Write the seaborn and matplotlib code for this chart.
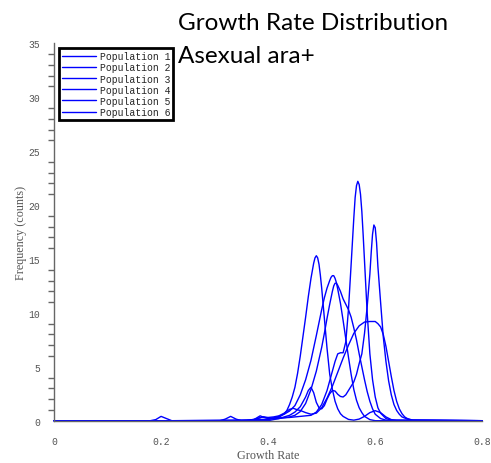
import matplotlib
matplotlib.use("Agg")
import matplotlib.pyplot as plt
import seaborn as sns
import pandas as pd
from matplotlib.ticker import MultipleLocator

# ---- data ----
populations = ["Population 1", "Population 2", "Population 3",
               "Population 4", "Population 5", "Population 6"]

pop1_x = [0, 0.36, 0.38, 0.39, 0.40, 0.41, 0.42, 0.43, 0.435, 0.44, 0.445, 0.45, 0.455, 0.46,
          0.465, 0.47, 0.475, 0.48, 0.485, 0.4875, 0.49, 0.4925, 0.495, 0.4975, 0.50, 0.505,
          0.51, 0.515, 0.52, 0.525, 0.53, 0.535, 0.54, 0.55, 0.56, 0.57, 0.58, 0.59, 0.60,
          0.61, 0.62, 0.63, 0.64, 0.8]
pop1_y = [0, 0, 0.2, 0.35, 0.25, 0.25, 0.3, 0.65, 0.95, 1.5, 2.2, 3.1, 4.4, 6.0,
          7.8, 9.6, 11.5, 13.2, 14.6, 15.1, 15.3, 15.1, 14.5, 13.5, 12.3, 9.5,
          6.7, 4.3, 2.9, 1.8, 1.1, 0.65, 0.4, 0.12, 0.05, 0.15, 0.4, 0.75, 0.93,
          0.75, 0.35, 0.1, 0.02, 0]

pop2_x = [0, 0.18, 0.19, 0.20, 0.21, 0.22, 0.40, 0.42, 0.43, 0.44, 0.45, 0.46, 0.47, 0.48,
          0.49, 0.50, 0.505, 0.51, 0.515, 0.5175, 0.52, 0.5225, 0.525, 0.5275, 0.53, 0.535,
          0.54, 0.545, 0.55, 0.555, 0.56, 0.565, 0.57, 0.575, 0.58, 0.59, 0.60, 0.8]
pop2_y = [0, 0, 0.1, 0.4, 0.2, 0, 0.1, 0.4, 0.6, 0.9, 1.4, 2.4, 3.8, 5.6,
          7.9, 10.3, 11.4, 12.3, 13.0, 13.3, 13.45, 13.45, 13.2, 12.8, 12.2, 10.9,
          9.3, 7.6, 5.9, 4.3, 2.9, 1.9, 1.2, 0.75, 0.4, 0.1, 0, 0]

pop3_x = [0, 0.31, 0.32, 0.33, 0.34, 0.35, 0.40, 0.42, 0.44, 0.45, 0.46, 0.47, 0.48, 0.49,
          0.50, 0.505, 0.51, 0.515, 0.52, 0.5225, 0.525, 0.5275, 0.53, 0.535, 0.54, 0.545,
          0.55, 0.555, 0.56, 0.565, 0.57, 0.575, 0.58, 0.585, 0.59, 0.595, 0.60, 0.61, 0.62,
          0.8]
pop3_y = [0, 0, 0.15, 0.4, 0.15, 0, 0.15, 0.2, 0.35, 0.5, 0.85, 1.6, 2.9, 4.6,
          6.8, 8.1, 9.5, 10.8, 12.0, 12.5, 12.75, 12.75, 12.55, 12.0, 11.3, 10.8,
          10.3, 9.6, 8.6, 7.5, 6.2, 5.0, 3.8, 2.7, 1.8, 1.1, 0.6, 0.2, 0.05,
          0]

pop4_x = [0, 0.37, 0.38, 0.385, 0.39, 0.40, 0.42, 0.44, 0.46, 0.48, 0.49, 0.50, 0.51, 0.52,
          0.525, 0.53, 0.535, 0.54, 0.545, 0.55, 0.555, 0.56, 0.5625, 0.565, 0.5675, 0.57,
          0.5725, 0.575, 0.5775, 0.58, 0.585, 0.59, 0.595, 0.60, 0.605, 0.61, 0.62, 0.63, 0.8]
pop4_y = [0, 0, 0.3, 0.45, 0.35, 0.2, 0.25, 0.3, 0.4, 0.5, 0.8, 1.5, 2.8, 4.6,
          5.5, 6.2, 6.3, 6.3, 7.3, 10.3, 14.5, 18.8, 20.7, 21.8, 22.2, 21.9,
          21.0, 19.4, 17.2, 14.8, 10.0, 6.2, 3.8, 2.2, 1.2, 0.7, 0.2, 0.05, 0]

pop5_x = [0, 0.40, 0.42, 0.44, 0.45, 0.46, 0.47, 0.475, 0.48, 0.485, 0.49, 0.495, 0.50, 0.505,
          0.51, 0.515, 0.52, 0.525, 0.53, 0.535, 0.54, 0.545, 0.55, 0.555, 0.56, 0.565, 0.57,
          0.575, 0.58, 0.585, 0.59, 0.5925, 0.595, 0.5975, 0.60, 0.6025, 0.605, 0.61, 0.615,
          0.62, 0.625, 0.63, 0.635, 0.64, 0.645, 0.65, 0.66, 0.67, 0.8]
pop5_y = [0, 0, 0.2, 0.5, 0.8, 1.3, 2.2, 2.8, 3.1, 2.6, 1.7, 1.2, 1.1, 1.4,
          2.0, 2.5, 2.8, 2.75, 2.45, 2.25, 2.2, 2.4, 2.8, 3.2, 3.6, 4.3, 5.3,
          6.2, 8.1, 10.6, 13.6, 15.6, 17.3, 18.15, 17.9, 16.5, 14.3, 11.0, 7.8,
          5.5, 3.7, 2.4, 1.5, 0.95, 0.6, 0.35, 0.15, 0.05, 0]

pop6_x = [0, 0.37, 0.38, 0.39, 0.40, 0.41, 0.42, 0.43, 0.44, 0.447, 0.455, 0.46, 0.47, 0.48,
          0.49, 0.50, 0.51, 0.52, 0.53, 0.54, 0.55, 0.56, 0.57, 0.58, 0.59, 0.60, 0.605,
          0.61, 0.615, 0.62, 0.625, 0.63, 0.635, 0.64, 0.645, 0.65, 0.655, 0.66, 0.67, 0.8]
pop6_y = [0, 0, 0.2, 0.35, 0.3, 0.35, 0.45, 0.7, 1.05, 1.15, 1.0, 0.95, 0.75, 0.6,
          0.7, 1.2, 2.1, 3.2, 4.5, 5.8, 7.0, 8.1, 8.8, 9.15, 9.2, 9.2, 9.0,
          8.7, 8.0, 6.9, 5.5, 4.1, 2.8, 1.8, 1.1, 0.65, 0.35, 0.2, 0.05, 0]

series_x = [pop1_x, pop2_x, pop3_x, pop4_x, pop5_x, pop6_x]
series_y = [pop1_y, pop2_y, pop3_y, pop4_y, pop5_y, pop6_y]

x_ticks = [0, 0.2, 0.4, 0.6, 0.8]
x_tick_labels = ["0", "0.2", "0.4", "0.6", "0.8"]
y_ticks = [0, 5, 10, 15, 20, 25, 30, 35]

# ---- figure ----
sns.set_style("white")
fig = plt.figure(figsize=(4.91, 4.64), dpi=100)
ax = fig.add_axes([54 / 491, (464 - 421.7) / 464, (482.3 - 54) / 491, (421.7 - 44.3) / 464])

frames = []
for name, xs, ys in zip(populations, series_x, series_y):
    frames.append(pd.DataFrame({"Growth Rate": xs, "Frequency": ys, "Population": name}))
df = pd.concat(frames, ignore_index=True)

palette = {p: "#0000ff" for p in populations}
sns.lineplot(data=df, x="Growth Rate", y="Frequency", hue="Population", palette=palette,
             sort=False, estimator=None, linewidth=1.0, ax=ax, legend=True)
for ln in ax.lines:
    ln.set_clip_on(False)
    ln.set_solid_joinstyle("round")

ax.set_xlim(0, 0.8)
ax.set_ylim(0, 35)
ax.set_xticks(x_ticks)
ax.set_xticklabels(x_tick_labels)
ax.set_yticks(y_ticks)
ax.yaxis.set_minor_locator(MultipleLocator(1))

grey = "#666666"
for s in ["top", "right"]:
    ax.spines[s].set_visible(False)
for s in ["left", "bottom"]:
    ax.spines[s].set_color(grey)
    ax.spines[s].set_linewidth(1.0)

ax.tick_params(axis="both", which="major", direction="out", length=7, width=1,
               color=grey, labelcolor="#555555", pad=3)
ax.tick_params(axis="x", which="major", length=8, pad=3)
ax.tick_params(axis="y", which="minor", direction="out", length=4, width=1, color=grey, left=True)
for lab in ax.get_xticklabels() + ax.get_yticklabels():
    lab.set_fontfamily("Liberation Mono")
    lab.set_fontsize(7)

ax.set_xlabel("Growth Rate", fontfamily="Liberation Serif", fontsize=8.7, color="#555555", labelpad=2)
ax.set_ylabel("Frequency (counts)", fontfamily="Liberation Serif", fontsize=8.7, color="#555555", labelpad=1)

leg = ax.legend(loc="upper left", bbox_to_anchor=(4.7 / 428.3, 1 - 5 / 377.4),
                prop={"family": "Liberation Mono", "size": 7}, frameon=True, fancybox=False,
                framealpha=1, borderpad=0.3, labelspacing=0.12, handlelength=3.5,
                handletextpad=0.4, borderaxespad=0)
leg.get_frame().set_edgecolor("black")
leg.get_frame().set_linewidth(2)
for h in leg.get_lines():
    h.set_linewidth(1.0)

fig.text(178 / 491, 1 - 30 / 464, "Growth Rate Distribution", fontfamily="Lato",
         fontsize=17.5, color="black", ha="left", va="baseline")
fig.text(178 / 491, 1 - 63.3 / 464, "Asexual ara+", fontfamily="Lato",
         fontsize=17.5, color="black", ha="left", va="baseline")

fig.savefig("out.png", dpi=100)
